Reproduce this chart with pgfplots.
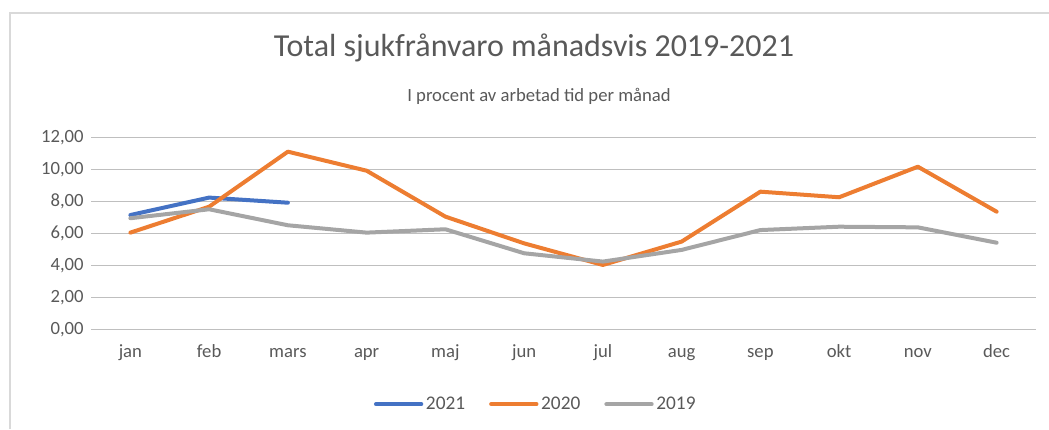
\documentclass[border=0pt]{standalone}
\usepackage{pgfplots}
\pgfplotsset{compat=1.18}
\usepackage{fontspec}
\setmainfont{Carlito}
\definecolor{c21}{HTML}{4472C4}
\definecolor{c20}{HTML}{ED7D31}
\definecolor{c19}{HTML}{A5A5A5}
\definecolor{grid}{HTML}{D9D9D9}
\definecolor{txt}{HTML}{595959}
\begin{document}
\begin{tikzpicture}
\useasboundingbox (0,0) rectangle (786.75pt,321.75pt);
\draw[grid, line width=1.5pt] (7.5pt,0) -- (7.5pt,312pt) -- (786.75pt,312pt);
\node[txt, font=\fontsize{24}{28}\selectfont] at (400.5pt,285.75pt) {Total sjukfrånvaro månadsvis 2019-2021};
\node[txt, font=\fontsize{14}{16}\selectfont] at (404.25pt,249.75pt) {I procent av arbetad tid per månad};
\begin{axis}[
  at={(68.25pt,74.8pt)}, anchor=south west,
  scale only axis, width=708.75pt, height=144pt,
  xmin=-0.5, xmax=11.5, ymin=0, ymax=12,
  xtick={0,...,11},
  xticklabels={jan,feb,mars,apr,maj,jun,jul,aug,sep,okt,nov,dec},
  ytick={0,2,...,12},
  xmajorgrids=false,
  ymajorgrids, major grid style={grid, line width=1pt},
  axis line style={draw=none},
  tick style={draw=none},
  xtick style={draw=none}, ytick style={draw=none},
  major tick length=0pt,
  tick label style={txt, font=\fontsize{14}{16}\selectfont},
  yticklabel style={xshift=-2pt},
  xticklabel style={yshift=-10pt, text height=1.6ex, text depth=0.4ex},
  /pgf/number format/.cd, assume math mode=true, use comma, fixed, fixed zerofill, precision=2,
  /pgfplots/.cd,
  clip=false,
  legend columns=3,
  legend style={draw=none, at={(0.471,-0.39)}, anchor=center, font=\fontsize{14.5}{16}\selectfont, text=txt,
    /tikz/every even column/.append style={column sep=16pt}},
  legend image code/.code={\draw[#1] (0pt,0pt) -- (34pt,0pt);},
  every axis plot/.append style={line width=3pt, line join=round, line cap=round},
]
\addplot[c21] coordinates {(0,7.14) (1,8.23) (2,7.91)};
\addplot[c20] coordinates {(0,6.04) (1,7.66) (2,11.10) (3,9.91) (4,7.04) (5,5.37) (6,4.02) (7,5.48) (8,8.60) (9,8.25) (10,10.16) (11,7.35)};
\addplot[c19] coordinates {(0,6.94) (1,7.50) (2,6.50) (3,6.04) (4,6.25) (5,4.75) (6,4.23) (7,4.96) (8,6.20) (9,6.41) (10,6.37) (11,5.41)};
\legend{2021,2020,2019}
\end{axis}
\end{tikzpicture}
\end{document}
